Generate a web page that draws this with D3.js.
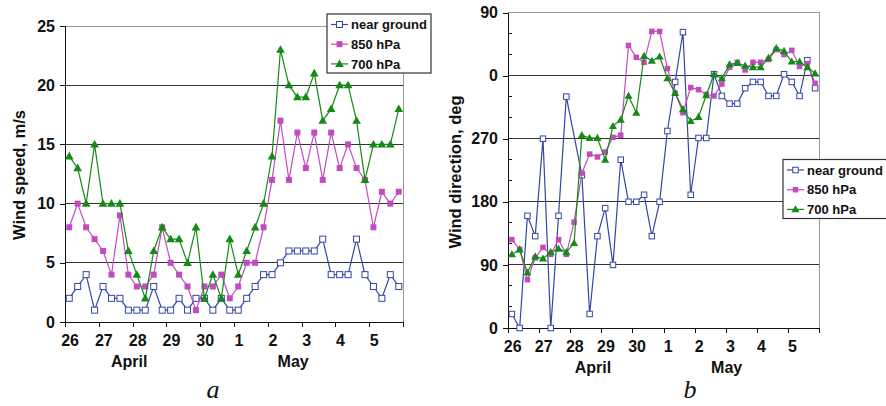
<!DOCTYPE html>
<html>
<head>
<meta charset="utf-8">
<script src="https://cdn.jsdelivr.net/npm/d3@7"></script>
<style>
  body { margin: 0; background: #fff; }
  text { font-family: "Liberation Sans", Arial, sans-serif; font-weight: bold; fill: #111; }
</style>
</head>
<body>
<svg id="chart" width="886" height="406"></svg>
<script>
// day labels on the category axis (4 readings per day)
var days = ["26", "27", "28", "29", "30", "1", "2", "3", "4", "5"];
var seriesNames = ["near ground", "850 hPa", "700 hPa"];

// wind speed, m/s
var speedGround = [2, 3, 4, 1, 3, 2, 2, 1, 1, 1, 3, 1, 1, 2, 1, 2, 2, 1, 2, 1,
                   1, 2, 3, 4, 4, 5, 6, 6, 6, 6, 7, 4, 4, 4, 7, 4, 3, 2, 4, 3];
var speed850 = [8, 10, 8, 7, 6, 4, 9, 4, 3, 3, 4, 8, 5, 4, 3, 1, 3, 3, 4, 2,
                3, 5, 5, 8, 12, 17, 12, 16, 13, 16, 12, 16, 13, 15, 13, 12, 8, 11, 10, 11];
var speed700 = [14, 13, 10, 15, 10, 10, 10, 6, 4, 2, 6, 8, 7, 7, 5, 8, 2, 4, 2, 7,
                4, 6, 8, 10, 14, 23, 20, 19, 19, 21, 17, 18, 20, 20, 17, 12, 15, 15, 15, 18];
var speedTicks = [0, 5, 10, 15, 20, 25];

// wind direction, deg (axis is unwrapped: values over 360 are past north)
var dirGround = [20, 0, 160, 131, 270, 0, 160, 330, null, 218, 20, 131, 171, 90, 240, 180, 180, 190, 131, 180,
                 281, 351, 422, 190, 271, 271, 362, 331, 320, 320, 342, 351, 351, 331, 331, 362, 351, 331, 382, 342];
var dir850 = [126, 112, 69, 100, 115, 105, 126, 105, 151, 221, 248, 244, 251, 272, 275, 403, 386, 379, 423, 423,
              370, 335, 307, 343, 340, 333, 331, 348, 372, 379, 368, 379, 379, 383, 397, 390, 396, 373, 377, 349];
var dir700 = [105, 112, 79, 102, 99, 108, 113, 108, 121, 275, 271, 271, 240, 288, 297, 331, 307, 388, 381, 387,
              356, 335, 312, 295, 301, 332, 362, 356, 376, 378, 374, 372, 372, 385, 399, 395, 380, 380, 372, 363];
var dirTicks = [0, 90, 180, 270, 360, 450];
var dirTickLabels = ["0", "90", "180", "270", "0", "90"];

var colors = ["#3346a8", "#c24cbf", "#168a16"];
var svg = d3.select("#chart");

function drawPanel(p) {
  var g = svg.append("g");

  var x = d3.scaleLinear().domain([0, days.length]).range([p.left, p.right]);
  var y = d3.scaleLinear().domain(p.yDomain).range([p.bottom, p.top]);

  // plot frame (top + right) in grey
  g.append("path")
    .attr("d", `M${p.left},${y(p.yDomain[1])}H${p.right}V${p.bottom}`)
    .attr("fill", "none")
    .attr("stroke", "#999")
    .attr("shape-rendering", "crispEdges");

  // gridlines
  g.selectAll(".grid")
    .data(p.yTicks.filter(d => d > 0 && d < p.yDomain[1]))
    .enter()
    .append("line")
    .attr("x1", p.left).attr("x2", p.right)
    .attr("y1", d => y(d)).attr("y2", d => y(d))
    .attr("stroke", "#333")
    .attr("shape-rendering", "crispEdges");

  // y axis
  var leftAxis = d3.axisLeft(y)
    .tickValues(p.yTicks)
    .tickSize(5)
    .tickPadding(5)
    .tickFormat((d, i) => p.yLabels[i]);
  var yAxis = g.append("g")
    .attr("transform", `translate(${p.left},0)`)
    .call(leftAxis);
  yAxis.select(".domain").attr("stroke", "#111").attr("shape-rendering", "crispEdges");
  yAxis.selectAll(".tick line").attr("stroke", "#111").attr("shape-rendering", "crispEdges");
  yAxis.selectAll("text")
    .style("font-size", "16px")
    .style("font-weight", "bold")
    .style("font-family", "'Liberation Sans', Arial, sans-serif")
    .attr("fill", "#111");

  if (p.minorTicks) {
    g.selectAll(".minor")
      .data(p.minorTicks)
      .enter()
      .append("line")
      .attr("x1", p.left).attr("x2", p.left + 4)
      .attr("y1", d => y(d)).attr("y2", d => y(d))
      .attr("stroke", "#111")
      .attr("shape-rendering", "crispEdges");
  }

  // x axis: ticks at day boundaries, labels at first reading of each day
  var bottomAxis = d3.axisBottom(x)
    .tickValues(d3.range(0, days.length + 1))
    .tickSize(5)
    .tickFormat("");
  var xAxis = g.append("g")
    .attr("transform", `translate(0,${p.bottom})`)
    .call(bottomAxis);
  xAxis.select(".domain").attr("stroke", "#111").attr("shape-rendering", "crispEdges");
  xAxis.selectAll(".tick line").attr("stroke", "#111").attr("shape-rendering", "crispEdges");

  g.selectAll(".daylabel")
    .data(days)
    .enter()
    .append("text")
    .attr("x", (d, i) => x(i + 0.15))
    .attr("y", p.bottom + 24)
    .style("text-anchor", "middle")
    .style("font-size", "16px")
    .text(d => d);

  g.selectAll(".month")
    .data(p.months)
    .enter()
    .append("text")
    .attr("x", d => x(d.at))
    .attr("y", p.bottom + 45)
    .style("text-anchor", "middle")
    .style("font-size", "16px")
    .text(d => d.name);

  // y title
  g.append("text")
    .attr("transform", `translate(${p.titleX},${p.titleY}) rotate(-90)`)
    .style("text-anchor", "middle")
    .style("font-size", "16.5px")
    .text(p.title);

  // panel letter
  g.append("text")
    .attr("x", p.letterX)
    .attr("y", 398)
    .style("text-anchor", "middle")
    .style("font-family", "'Liberation Serif', 'Times New Roman', serif")
    .style("font-style", "italic")
    .style("font-weight", "normal")
    .style("font-size", "26px")
    .text(p.letter);

  // series
  var px = i => x((i + 0.5) / 4);
  p.series.forEach(function(values, s) {
    var pts = values.map((v, i) => ({ i: i, v: v })).filter(d => d.v !== null);
    var line = d3.line().x(d => px(d.i)).y(d => y(d.v));
    g.append("path")
      .datum(pts)
      .attr("d", line)
      .attr("fill", "none")
      .attr("stroke", colors[s])
      .attr("stroke-width", 1.2);
    drawMarkers(g, pts.map(d => [px(d.i), y(d.v)]), s, p.markerSize);
  });

  // legend
  var lg = g.append("g").attr("transform", `translate(${p.legendX},${p.legendY})`);
  lg.append("rect")
    .attr("width", p.legendW).attr("height", 59)
    .attr("fill", "#fff")
    .attr("stroke", "#333")
    .attr("stroke-width", 1.2);
  seriesNames.forEach(function(name, s) {
    var cy = 10.5 + s * 19.7;
    lg.append("line")
      .attr("x1", 4).attr("x2", 21)
      .attr("y1", cy).attr("y2", cy)
      .attr("stroke", colors[s])
      .attr("stroke-width", 1.2);
    drawMarkers(lg, [[12.5, cy]], s, p.markerSize);
    lg.append("text")
      .attr("x", 24)
      .attr("y", cy + 4.6)
      .style("font-size", "13px")
      .text(name);
  });
}

function drawMarkers(g, pts, s, size) {
  if (s === 2) {
    var h = size + 1.5;
    g.selectAll(null)
      .data(pts)
      .enter()
      .append("path")
      .attr("d", d => `M${d[0]},${d[1] - h * 0.6}L${d[0] + h * 0.58},${d[1] + h * 0.42}L${d[0] - h * 0.58},${d[1] + h * 0.42}Z`)
      .attr("fill", colors[2]);
  } else {
    g.selectAll(null)
      .data(pts)
      .enter()
      .append("rect")
      .attr("x", d => d[0] - size / 2)
      .attr("y", d => d[1] - size / 2)
      .attr("width", size)
      .attr("height", size)
      .attr("fill", s === 0 ? "#fff" : colors[1])
      .attr("stroke", s === 0 ? colors[0] : "none")
      .attr("stroke-width", 1);
  }
}

// a: wind speed
drawPanel({
  left: 65, right: 403, top: 26, bottom: 322,
  yDomain: [0, 25], yTicks: speedTicks, yLabels: speedTicks.map(String),
  series: [speedGround, speed850, speed700],
  months: [{ name: "April", at: 1.9 }, { name: "May", at: 6.75 }],
  title: "Wind speed, m/s", titleX: 25, titleY: 175,
  letter: "a", letterX: 213,
  legendX: 327, legendY: 14, legendW: 104,
  markerSize: 6
});

// b: wind direction
drawPanel({
  left: 508, right: 819, top: 12.5, bottom: 328,
  yDomain: [0, 450], yTicks: dirTicks, yLabels: dirTickLabels,
  minorTicks: d3.range(30, 450, 30).filter(d => d % 90 !== 0),
  series: [dirGround, dir850, dir700],
  months: [{ name: "April", at: 2.73 }, { name: "May", at: 7.03 }],
  title: "Wind direction, deg", titleX: 461, titleY: 172,
  letter: "b", letterX: 690,
  legendX: 783, legendY: 159.5, legendW: 110,
  markerSize: 5.5
});
</script>
</body>
</html>
